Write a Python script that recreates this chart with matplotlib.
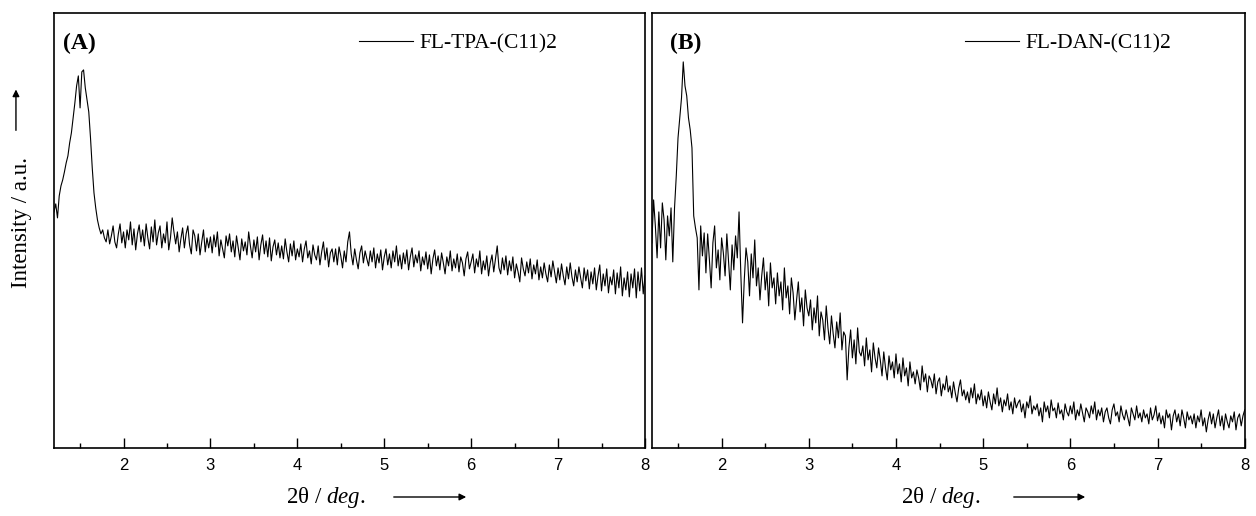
import numpy as np
import matplotlib
matplotlib.use('Agg')
import matplotlib.pyplot as plt
from matplotlib.ticker import MultipleLocator

plt.rcParams['font.family'] = ['Liberation Serif', 'DejaVu Serif']
plt.rcParams['mathtext.fontset'] = 'custom'
plt.rcParams['mathtext.rm'] = 'Liberation Serif'
plt.rcParams['mathtext.it'] = 'Liberation Serif:italic'

# scan grid, 2theta step 0.02 deg
two_theta = np.round(np.arange(1.20, 8.0001, 0.02), 2)

tpa = [236, 244, 230, 252, 262, 268, 276, 285, 292, 305, 315, 330, 345, 362, 372, 340,
       376, 378, 360, 348, 336, 310, 280, 255, 240, 228, 220, 214, 218, 210, 206,
       218, 204, 212, 222, 206, 200, 214, 224, 205, 216,
       200, 218, 208, 226, 203, 219, 198, 214, 223, 206,
       218, 202, 224, 210, 199, 221, 206, 228, 203, 215,
       222, 200, 214, 205, 226, 198, 210, 230, 216, 204,
       216, 196, 209, 220, 200, 214, 222, 203, 194, 218,
       212, 197, 214, 193, 206, 218, 196, 210, 200, 211,
       195, 213, 201, 216, 192, 208, 199, 190, 212, 202,
       214, 196, 207, 191, 212, 200, 188, 209, 197, 206,
       193, 216, 202, 190, 208, 196, 211, 188, 203, 213,
       194, 207, 191, 210, 187, 201, 208, 193, 205, 190,
       202, 189, 209, 196, 186, 204, 192, 207, 188, 199,
       191, 204, 186, 199, 207, 190, 197, 184, 203, 193,
       188, 202, 183, 196, 206, 188, 200, 181, 195, 199,
       186, 199, 183, 201, 192, 180, 197, 186, 206, 216,
       194, 183, 199, 188, 179, 195, 202, 185, 197, 189,
       182, 197, 186, 200, 180, 194, 185, 198, 178, 191,
       199, 183, 194, 180, 197, 186, 202, 182, 193, 179,
       195, 184, 198, 178, 191, 200, 181, 193, 185, 197,
       177, 191, 183, 196, 179, 193, 174, 189, 198, 182,
       192, 178, 195, 185, 174, 191, 182, 197, 177, 189,
       180, 194, 176, 191, 185, 172, 189, 196, 179, 186,
       194, 175, 189, 181, 197, 174, 187, 178, 192, 172,
       185, 193, 176, 189, 202, 180, 174, 190, 178, 192,
       173, 187, 177, 191, 170, 184, 176, 166, 190, 179,
       172, 186, 175, 189, 169, 183, 174, 188, 168, 181,
       170, 185, 174, 166, 183, 171, 187, 176, 165, 180,
       168, 184, 172, 163, 181, 169, 185, 171, 162, 178,
       166, 181, 170, 160, 180, 167, 178, 159, 176, 164,
       180, 158, 172, 183, 157, 174, 162, 179, 155, 171,
       163, 178, 154, 175, 160, 181, 152, 170, 158, 176,
       151, 174, 160, 179, 150, 176, 157, 180, 154, 172]

dan = [205, 248, 222, 190, 236, 200, 245, 228, 188, 232, 212, 240, 186, 240, 272, 310,
       330, 350, 386, 362, 352, 330, 318, 300, 232, 220, 210, 158, 222, 192, 215,
       175, 214, 188, 160, 205, 222, 180, 198, 168, 210,
       195, 172, 214, 186, 158, 203, 178, 212, 190, 236,
       175, 125, 168, 200, 186, 152, 194, 170, 208, 162,
       180, 148, 172, 190, 158, 176, 142, 185, 160, 170,
       144, 175, 152, 166, 138, 180, 150, 162, 134, 170,
       155, 128, 148, 166, 136, 150, 122, 158, 140, 132,
       148, 118, 140, 125, 152, 112, 136, 128, 108, 142,
       120, 104, 132, 114, 100, 126, 110, 135, 98, 116,
       112, 68, 100, 118, 90, 108, 84, 120, 96, 92,
       102, 82, 110, 88, 98, 76, 105, 90, 80, 100,
       88, 72, 96, 80, 68, 92, 78, 86, 70, 94,
       74, 84, 66, 90, 72, 80, 62, 86, 70, 76,
       64, 78, 70, 58, 82, 66, 74, 56, 72, 68,
       60, 74, 54, 66, 70, 52, 64, 58, 72, 56,
       62, 50, 66, 55, 46, 60, 68, 52, 58, 48,
       56, 45, 60, 50, 64, 44, 54, 48, 58, 42,
       52, 40, 56, 46, 38, 54, 44, 60, 42, 50,
       36, 48, 42, 54, 38, 46, 34, 50, 40, 45,
       48, 36, 44, 30, 46, 40, 52, 34, 42, 38,
       44, 32, 40, 26, 46, 36, 42, 30, 48, 37,
       40, 30, 45, 34, 38, 28, 44, 36, 32, 42,
       34, 46, 28, 38, 32, 44, 35, 26, 40, 36,
       30, 42, 34, 46, 28, 38, 32, 40, 26, 36,
       40, 30, 24, 38, 44, 32, 36, 26, 42, 33,
       28, 38, 30, 22, 40, 34, 28, 42, 30, 35,
       26, 38, 30, 34, 24, 40, 28, 33, 42, 27,
       35, 24, 32, 20, 38, 30, 34, 18, 32, 38,
       26, 34, 22, 38, 30, 20, 36, 28, 32, 24,
       34, 20, 32, 26, 38, 22, 30, 16, 28, 36,
       24, 34, 20, 30, 38, 22, 32, 18, 34, 26,
       20, 32, 26, 36, 18, 30, 34, 22, 32, 38]

names = ['FL-TPA-(C11)2', 'FL-DAN-(C11)2']
panels = ['(A)', '(B)']

fig = plt.figure(figsize=(12.56, 5.16), dpi=100)
ax1 = fig.add_axes([0.043, 0.132, 0.4705, 0.843])
ax2 = fig.add_axes([0.519, 0.132, 0.472, 0.843])

for ax, y, name, tag, lx, tx in [(ax1, tpa, names[0], panels[0], 0.516, 0.015),
                                 (ax2, dan, names[1], panels[1], 0.528, 0.030)]:
    ax.plot(two_theta, y, color='black', lw=0.8, label=name)
    ax.set_xlim(1.2, 8)
    ax.set_ylim(0, 435)
    ax.set_yticks([])
    ax.xaxis.set_minor_locator(MultipleLocator(0.5))
    ax.set_xticks([2, 3, 4, 5, 6, 7, 8])
    ax.tick_params(axis='x', which='major', direction='in', length=7, width=1, pad=7,
                   labelsize=12, labelfontfamily='Liberation Sans')
    ax.tick_params(axis='x', which='minor', direction='in', length=3.6, width=1)
    for s in ax.spines.values():
        s.set_linewidth(1.2)
    ax.text(tx, 0.929, tag, transform=ax.transAxes, fontsize=17, fontweight='bold',
            va='center', ha='left')
    ax.legend(loc='center left', bbox_to_anchor=(lx, 0.929), frameon=False,
              fontsize=15.5, handlelength=2.5, handletextpad=0.3,
              borderpad=0, borderaxespad=0)

# axis labels with arrows
fig.text(0.0175, 0.568, 'Intensity / a.u.', rotation=90, fontsize=16.5,
         ha='center', va='center')
fig.add_artist(matplotlib.patches.FancyArrowPatch((0.0127, 0.742), (0.0127, 0.832),
               transform=fig.transFigure, arrowstyle='-|>', mutation_scale=10,
               color='black', lw=1))

for cx, a0, a1 in [(326, 391, 469), (941, 1011, 1088)]:
    fig.text(cx / 1256, 1 - 497 / 516, '2θ / $\\it{deg.}$', fontsize=16.5,
             ha='center', va='center')
    fig.add_artist(matplotlib.patches.FancyArrowPatch((a0 / 1256, 1 - 497 / 516),
                   (a1 / 1256, 1 - 497 / 516), transform=fig.transFigure,
                   arrowstyle='-|>', mutation_scale=10, color='black', lw=1))

fig.savefig('out.png', dpi=100)
